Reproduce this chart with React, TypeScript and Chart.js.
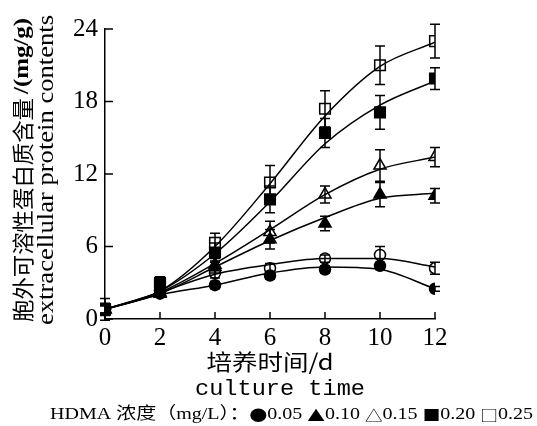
import React, { useEffect, useRef } from "react";
import { Chart, registerables } from "chart.js";

Chart.register(...registerables);

// ---- data ----
const days = [0, 2, 4, 6, 8, 10, 12];

// measured means
const conc005 = [0.8, 2.1, 2.8, 3.6, 4.1, 4.4, 2.5];
const conc000 = [0.8, 2.3, 3.8, 4.2, 5.0, 5.3, 4.2];
const conc010 = [0.8, 2.1, 4.3, 6.6, 7.9, 10.3, 10.2];
const conc015 = [0.8, 2.2, 4.5, 7.2, 10.3, 12.7, 13.4];
const conc020 = [0.8, 3.0, 5.5, 9.9, 15.4, 17.1, 19.9];
const conc025 = [0.8, 2.8, 6.3, 11.3, 17.4, 21.0, 23.0];

// error (±)
const err005 = [0.3, 0.3, 0.3, 0.3, 0.3, 0.3, 0.2];
const err000 = [0.3, 0.3, 0.4, 0.4, 0.3, 0.7, 0.5];
const err010 = [0.4, 0.3, 0.5, 0.8, 0.6, 1.0, 0.6];
const err015 = [0.4, 0.3, 0.5, 0.9, 0.7, 1.3, 0.8];
const err020 = [0.5, 0.5, 0.8, 1.1, 1.2, 1.4, 0.9];
const err025 = [0.9, 0.5, 0.8, 1.4, 1.5, 1.6, 1.4];

// fitted curves
const fit005 = [0.8, 2.0, 2.8, 3.8, 4.3, 4.1, 2.5];
const fit000 = [0.8, 2.2, 3.7, 4.5, 5.0, 5.0, 4.3];
const fit010 = [0.8, 2.1, 4.3, 6.5, 8.4, 10.0, 10.4];
const fit015 = [0.8, 2.2, 4.6, 7.4, 10.3, 12.4, 13.4];
const fit020 = [0.8, 2.3, 5.4, 9.7, 14.5, 17.7, 19.7];
const fit025 = [0.8, 2.3, 6.0, 11.2, 16.8, 20.9, 22.9];

const yTickStep = 6;
const yMax = 24;
const xTickStep = 2;
const xMax = 12;

const yTitleZh = "胞外可溶性蛋白质含量";
const yTitleUnit = "/(mg/g)";
const yTitleEn = "extracellular protein contents";
const xTitleZh = "培养时间/d";
const xTitleEn = "culture time";
const legendPrefix = "HDMA 浓度（mg/L）：";
const legendSymbols = ["●", "▲", "△", "■", "□"];
const legendLabels = ["0.05", "0.10", "0.15", "0.20", "0.25"];

const pts = (ys: number[]) => days.map((x, i) => ({ x, y: ys[i] }));

function fitText(
  ctx: CanvasRenderingContext2D,
  text: string,
  cx: number,
  cy: number,
  targetW: number,
  font: string,
  rotate: boolean
) {
  ctx.save();
  ctx.font = font;
  const w = ctx.measureText(text).width;
  ctx.translate(cx, cy);
  if (rotate) ctx.rotate(-Math.PI / 2);
  ctx.scale(targetW / w, 1);
  ctx.textAlign = "center";
  ctx.textBaseline = "middle";
  ctx.fillStyle = "#000";
  ctx.fillText(text, 0, 0);
  ctx.restore();
}

function drawRuns(
  ctx: CanvasRenderingContext2D,
  runs: { t: string; f: string }[],
  left: number,
  cy: number,
  targetW: number
) {
  ctx.save();
  const widths = runs.map((r) => {
    ctx.font = r.f;
    return ctx.measureText(r.t).width;
  });
  const total = widths.reduce((a, b) => a + b, 0);
  const k = targetW / total;
  ctx.translate(left, cy);
  ctx.scale(k, 1);
  ctx.textAlign = "left";
  ctx.textBaseline = "middle";
  ctx.fillStyle = "#000";
  let x = 0;
  runs.forEach((r, i) => {
    ctx.font = r.f;
    ctx.fillText(r.t, x, 0);
    x += widths[i];
  });
  ctx.restore();
}

export default function App() {
  const ref = useRef<HTMLCanvasElement>(null);

  useEffect(() => {
    if (!ref.current) return;
    const measured = [
      { d: conc005, e: err005, style: "circle", fill: true, r: 5.5 },
      { d: conc000, e: err000, style: "circle", fill: false, r: 5.5 },
      { d: conc010, e: err010, style: "triangle", fill: true, r: 7 },
      { d: conc015, e: err015, style: "triangle", fill: false, r: 7 },
      { d: conc020, e: err020, style: "rect", fill: true, r: 7.5 },
      { d: conc025, e: err025, style: "rect", fill: false, r: 7.5 },
    ];
    const fits = [fit005, fit000, fit010, fit015, fit020, fit025];

    const datasets: any[] = [];
    fits.forEach((f) => {
      datasets.push({
        data: pts(f),
        borderColor: "#000",
        borderWidth: 1.5,
        pointRadius: 0,
        showLine: true,
        fill: false,
        cubicInterpolationMode: "monotone",
      });
    });
    measured.forEach((m) => {
      datasets.push({
        data: pts(m.d),
        errors: m.e,
        showLine: false,
        pointStyle: m.style,
        pointRadius: m.r,
        pointBorderWidth: 1.5,
        pointBorderColor: "#000",
        pointBackgroundColor: m.fill ? "#000" : "rgba(0,0,0,0)",
        borderColor: "#000",
      });
    });

    const bgPlugin = {
      id: "bg",
      beforeDraw(chart: any) {
        const c = chart.ctx;
        c.save();
        c.fillStyle = "#fff";
        c.fillRect(0, 0, chart.width, chart.height);
        c.restore();
      },
    };

    const errPlugin = {
      id: "errbars",
      beforeDatasetsDraw(chart: any) {
        const c = chart.ctx;
        const ys = chart.scales.y;
        const xs = chart.scales.x;
        c.save();
        c.strokeStyle = "#000";
        c.lineWidth = 1.5;
        chart.data.datasets.forEach((ds: any) => {
          if (!ds.errors) return;
          ds.data.forEach((p: any, i: number) => {
            const e = ds.errors[i];
            const px = xs.getPixelForValue(p.x);
            const top = ys.getPixelForValue(p.y + e);
            const bot = ys.getPixelForValue(p.y - e);
            c.beginPath();
            c.moveTo(px, top);
            c.lineTo(px, bot);
            c.moveTo(px - 5, top);
            c.lineTo(px + 5, top);
            c.moveTo(px - 5, bot);
            c.lineTo(px + 5, bot);
            c.stroke();
          });
        });
        c.restore();
      },
    };

    const serif = "17px 'Liberation Serif', 'Noto Sans CJK SC'";
    const sym = "15px 'Noto Sans CJK SC'";
    const legendRuns: { t: string; f: string }[] = [{ t: legendPrefix, f: serif }];
    legendSymbols.forEach((s, i) => {
      legendRuns.push({ t: s, f: sym });
      legendRuns.push({ t: legendLabels[i] + (i < legendLabels.length - 1 ? " " : ""), f: serif });
    });

    const decoPlugin = {
      id: "deco",
      afterDraw(chart: any) {
        const c = chart.ctx;
        const ys = chart.scales.y;
        const xs = chart.scales.x;
        const area = chart.chartArea;
        c.save();
        c.strokeStyle = "#000";
        c.lineWidth = 1.5;
        ys.ticks.forEach((t: any) => {
          const py = ys.getPixelForValue(t.value);
          c.beginPath();
          c.moveTo(area.left, py);
          c.lineTo(area.left + 8, py);
          c.stroke();
        });
        xs.ticks.forEach((t: any) => {
          const px = xs.getPixelForValue(t.value);
          c.beginPath();
          c.moveTo(px, area.bottom);
          c.lineTo(px, area.bottom - 7);
          c.stroke();
        });
        c.restore();

        fitText(c, yTitleZh, 23, 210, 224, "22px 'Noto Sans CJK SC'", true);
        fitText(c, yTitleUnit, 23, 56, 76, "bold 20px 'Liberation Serif'", true);
        fitText(c, yTitleEn, 47, 170, 310, "23px 'Liberation Serif'", true);
        fitText(c, xTitleZh, 270, 362, 127, "22px 'Noto Sans CJK SC'", false);
        fitText(c, xTitleEn, 280, 389, 170, "22px 'Liberation Mono'", false);
        drawRuns(c, legendRuns, 50, 415, 483);
      },
    };

    const chart = new Chart(ref.current, {
      type: "line",
      data: { datasets },
      options: {
        animation: false,
        responsive: false,
        events: [],
        layout: { padding: { left: 0, top: 29, right: 102, bottom: 0 } },
        plugins: { legend: { display: false }, tooltip: { enabled: false } },
        scales: {
          x: {
            type: "linear",
            min: 0,
            max: xMax,
            afterFit(s: any) {
              s.height = 107;
            },
            ticks: {
              stepSize: xTickStep,
              padding: 4,
              color: "#000",
              font: { family: "'Liberation Serif'", size: 25 },
            },
            grid: { display: false, drawTicks: false },
            border: { display: true, color: "#000", width: 1.5 },
          },
          y: {
            min: 0,
            max: yMax,
            afterFit(s: any) {
              s.width = 105;
            },
            ticks: {
              stepSize: yTickStep,
              padding: 7,
              color: "#000",
              font: { family: "'Liberation Serif'", size: 25 },
            },
            grid: { display: false, drawTicks: false },
            border: { display: true, color: "#000", width: 1.5 },
          },
        },
      } as any,
      plugins: [bgPlugin, errPlugin, decoPlugin],
    });
    return () => chart.destroy();
  }, []);

  return (
    <div style={{ position: "fixed", left: 0, top: 0, width: 537, height: 426 }}>
      <canvas ref={ref} width={537} height={426} />
    </div>
  );
}
